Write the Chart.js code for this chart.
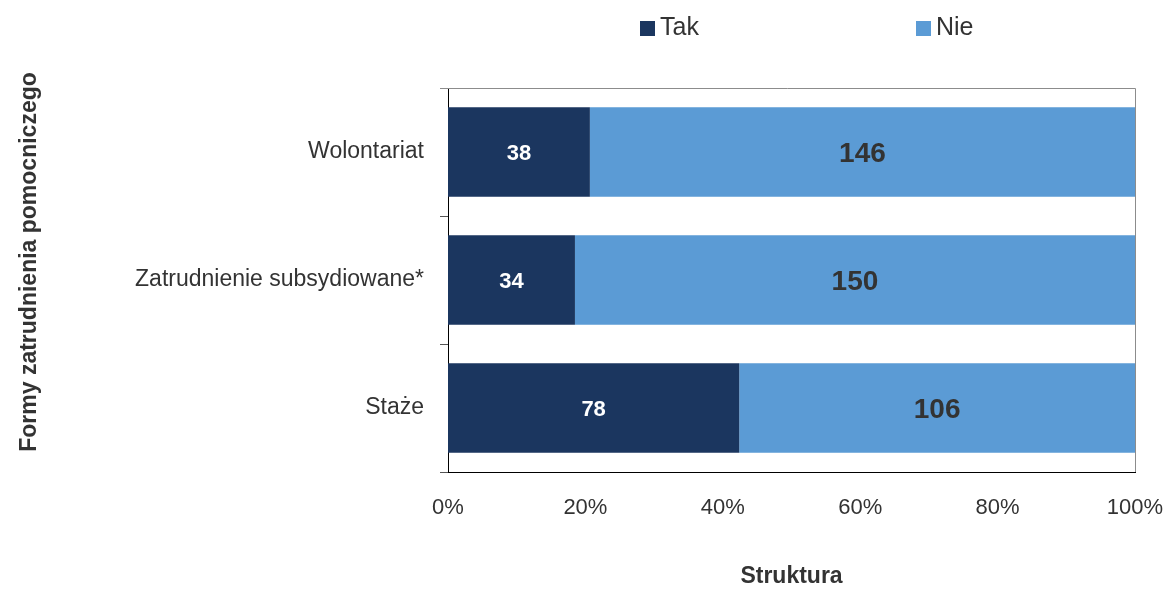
<!DOCTYPE html>
<html>
<head>
<meta charset="utf-8">
<script src="https://cdn.jsdelivr.net/npm/chart.js@4"></script>
<style>
  html, body { margin: 0; padding: 0; background: #fff; }
  #wrap { width: 1167px; height: 590px; }
</style>
</head>
<body>
<div id="wrap"><canvas id="chart"></canvas></div>
<script>
// categories and counts
const categories = ['Wolontariat', 'Zatrudnienie subsydiowane*', 'Staże'];
const takCounts = [38, 34, 78];
const nieCounts = [146, 150, 106];
const seriesNames = ['Tak', 'Nie'];
const xTicks = [0, 20, 40, 60, 80, 100];
const yTitle = 'Formy zatrudnienia pomocniczego';

const FONT = '"Liberation Sans Narrow", "Arial Narrow", "Liberation Sans", sans-serif';
const TAK_COLOR = '#1b365f';
const NIE_COLOR = '#5b9bd5';

// share of each answer in the row total
const totals = takCounts.map((v, i) => v + nieCounts[i]);
const takPct = takCounts.map((v, i) => v / totals[i] * 100);
const niePct = nieCounts.map((v, i) => v / totals[i] * 100);

// labels inside the bars + legend + frame + y title
const extras = {
  id: 'extras',
  afterDatasetsDraw(chart) {
    const ctx = chart.ctx;
    const area = chart.chartArea;
    ctx.save();
    ctx.textAlign = 'center';
    ctx.textBaseline = 'middle';
    chart.data.datasets.forEach((ds, di) => {
      const meta = chart.getDatasetMeta(di);
      meta.data.forEach((bar, i) => {
        const x = (bar.x + bar.base) / 2;
        if (di === 0) {
          ctx.fillStyle = '#ffffff';
          ctx.font = 'bold 22px ' + FONT;
        } else {
          ctx.fillStyle = '#333333';
          ctx.font = 'bold 28px ' + FONT;
        }
        ctx.fillText(String(ds.counts[i]), x, bar.y + 2);
      });
    });

    // top and right frame
    ctx.strokeStyle = '#8c8c8c';
    ctx.lineWidth = 1;
    ctx.beginPath();
    ctx.moveTo(area.left - 8, area.top + 0.5);
    ctx.lineTo(area.right + 0.5, area.top + 0.5);
    ctx.lineTo(area.right + 0.5, area.bottom);
    ctx.stroke();

    // legend
    const legendX = [area.left + 192, area.left + 468];
    ctx.textAlign = 'left';
    ctx.font = '25px ' + FONT;
    chart.data.datasets.forEach((ds, di) => {
      ctx.fillStyle = ds.backgroundColor;
      ctx.fillRect(legendX[di], 21, 15, 15);
      ctx.fillStyle = '#333333';
      ctx.fillText(ds.label, legendX[di] + 20, 28);
    });

    // rotated y title
    ctx.translate(30, 262);
    ctx.rotate(-Math.PI / 2);
    ctx.textAlign = 'center';
    ctx.font = 'bold 23px ' + FONT;
    ctx.fillText(yTitle, 0, 0);
    ctx.restore();
  }
};

new Chart(document.getElementById('chart'), {
  type: 'bar',
  data: {
    labels: categories,
    datasets: [
      { label: seriesNames[0], data: takPct, counts: takCounts, backgroundColor: TAK_COLOR,
        borderWidth: 0, barPercentage: 0.7, categoryPercentage: 1 },
      { label: seriesNames[1], data: niePct, counts: nieCounts, backgroundColor: NIE_COLOR,
        borderWidth: 0, barPercentage: 0.7, categoryPercentage: 1 }
    ]
  },
  options: {
    indexAxis: 'y',
    responsive: true,
    maintainAspectRatio: false,
    animation: false,
    layout: { padding: { top: 88, right: 32, left: 0, bottom: 0 } },
    plugins: {
      legend: { display: false },
      tooltip: { enabled: false }
    },
    scales: {
      x: {
        stacked: true,
        min: 0,
        max: 100,
        afterBuildTicks(axis) { axis.ticks = xTicks.map(v => ({ value: v })); },
        afterFit(axis) {
          axis.height = 118;
          axis.paddingLeft = 0;
          axis.paddingRight = 0;
        },
        grid: { display: false, drawTicks: false },
        border: { display: true, color: '#000000', width: 1 },
        ticks: {
          padding: 23,
          color: '#333333',
          font: { family: FONT, size: 22 },
          callback: v => v + '%'
        },
        title: {
          display: true,
          text: 'Struktura',
          color: '#333333',
          font: { family: FONT, size: 23, weight: 'bold' },
          padding: { top: 41, bottom: 0 }
        }
      },
      y: {
        stacked: true,
        afterFit(axis) { axis.width = 448; },
        grid: {
          offset: true,
          drawOnChartArea: false,
          drawTicks: true,
          tickLength: 8,
          color: '#555555'
        },
        border: { display: true, color: '#000000', width: 1 },
        ticks: {
          padding: 16,
          color: '#333333',
          font: { family: FONT, size: 23 }
        }
      }
    }
  },
  plugins: [extras]
});
</script>
</body>
</html>
